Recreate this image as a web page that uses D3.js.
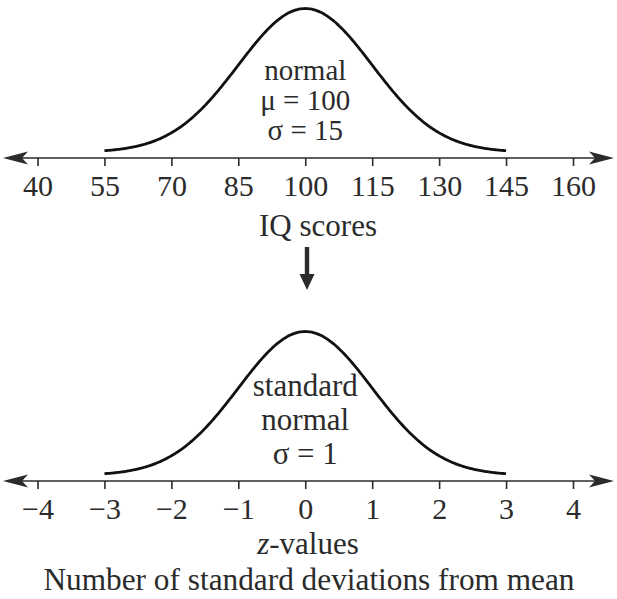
<html>
<head>
	<meta charset="utf-8">
	<title>normal to standard normal</title>
</head>

<style>
body{ margin:0; background:#fff; }
text{
	font-family: "Liberation Serif", "DejaVu Serif", serif;
	fill: #2b2b2b;
}
.curve{
	fill: none;
	stroke: #111;
	stroke-width: 2.8px;
}
.axis line{ stroke:#2b2b2b; stroke-width:1.6px; }
.axis path{ display:none; }
.axis text{ font-size:30px; }
.baseline{ stroke:#2b2b2b; stroke-width:1.6px; }
.head{ fill:#2b2b2b; }
</style>

<body>

<script src="https://cdn.jsdelivr.net/npm/d3@7/dist/d3.min.js" charset="utf-8"></script>
<script>

var width = 617;
var height = 599;

// data
var iqTicks = [40, 55, 70, 85, 100, 115, 130, 145, 160];
var zTicks = [-4, -3, -2, -1, 0, 1, 2, 3, 4];
var iqParams = [100, 15];	// mean, sd
var zParams = [0, 1];
var iqLabels = ["normal", "\u03bc = 100", "\u03c3 = 15"];
var zLabels = ["standard", "normal", "\u03c3 = 1"];

var svg = d3.select("body").append("svg")
			.attr("width",width)
			.attr("height",height);

var left = 37.5, right = 573;

// one panel: axis + curve + text
function panel(ticks, params, labels, axisY, labelY, labelStep, labelSize, fmt){

	var x = d3.scaleLinear()
			.domain([ticks[0], ticks[ticks.length-1]])
			.range([left, right]);

	var mu = params[0], sd = params[1];
	var pdf = function(v){ return Math.exp(-0.5*Math.pow((v-mu)/sd,2)); };

	var y = d3.scaleLinear()
			.domain([0, 1])
			.range([axisY - 5.7, axisY - 149.5]);

	// baseline with arrow heads
	var g = svg.append("g");
	g.append("line")
		.attr("class","baseline")
		.attr("x1",15).attr("x2",width-15)
		.attr("y1",axisY).attr("y2",axisY);

	g.append("path")
		.attr("class","head")
		.attr("d","M3,"+axisY+" L28,"+(axisY-6.5)+" L22,"+axisY+" L28,"+(axisY+6.5)+" Z");
	g.append("path")
		.attr("class","head")
		.attr("d","M"+(width-3)+","+axisY+" L"+(width-28)+","+(axisY-6.5)+" L"+(width-22)+","+axisY+" L"+(width-28)+","+(axisY+6.5)+" Z");

	var axis = d3.axisBottom(x)
			.tickValues(ticks)
			.tickSize(8)
			.tickPadding(9)
			.tickFormat(fmt);

	svg.append("g")
		.attr("class","axis")
		.attr("transform","translate(0,"+axisY+")")
		.call(axis);

	// curve from -3sd to +3sd
	var pts = d3.range(mu-3*sd, mu+3*sd+sd/100, sd/50);
	var line = d3.line()
			.x(function(d){ return x(d); })
			.y(function(d){ return y(pdf(d)); })
			.curve(d3.curveBasis);

	svg.append("path")
		.datum(pts)
		.attr("class","curve")
		.attr("d",line);

	svg.selectAll(null)
		.data(labels)
		.enter()
		.append("text")
		.attr("x",x(mu))
		.attr("y",function(d,i){ return labelY + i*labelStep; })
		.attr("text-anchor","middle")
		.style("font-size",labelSize+"px")
		.text(function(d){ return d; });

	return x;
}

panel(iqTicks, iqParams, iqLabels, 158, 80, 30, 29, function(d){ return d; });
panel(zTicks, zParams, zLabels, 481, 396, 34, 31, function(d){ return d < 0 ? "\u2212" + (-d) : d; });

// axis titles
svg.append("text")
	.attr("x",318).attr("y",236)
	.attr("text-anchor","middle")
	.style("font-size","31px")
	.text("IQ scores");

var zt = svg.append("text")
	.attr("x",308).attr("y",554)
	.attr("text-anchor","middle")
	.style("font-size","31px");
zt.append("tspan").style("font-style","italic").text("z");
zt.append("tspan").text("-values");

svg.append("text")
	.attr("x",309).attr("y",590)
	.attr("text-anchor","middle")
	.style("font-size","31.3px")
	.text("Number of standard deviations from mean");

// down arrow between the panels
svg.append("rect")
	.attr("class","head")
	.attr("x",304.8).attr("y",247)
	.attr("width",4.4).attr("height",28);
svg.append("path")
	.attr("class","head")
	.attr("d","M299.5,274 L314.5,274 L307,290 Z");

</script>
</body>
</html>
